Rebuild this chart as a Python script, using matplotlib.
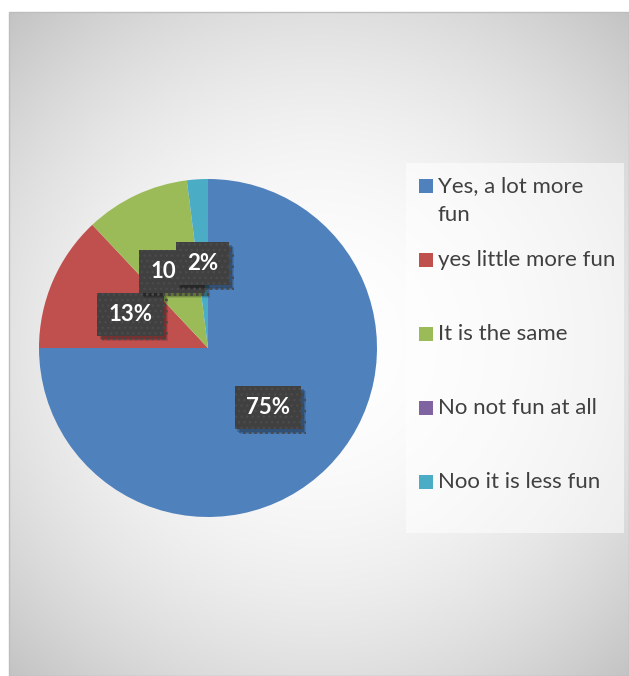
import numpy as np
import matplotlib.pyplot as plt
import matplotlib.patheffects as pe
from matplotlib.patches import Rectangle

# survey answers and their shares in percent
categories = ["Yes, a lot more fun", "yes little more fun", "It is the same",
              "No not fun at all", "Noo it is less fun"]
legend_labels = ["Yes, a lot more\nfun", "yes little more fun", "It is the same",
                 "No not fun at all", "Noo it is less fun"]
shares = [75, 13, 10, 0, 2]
colors = ["#4F81BD", "#C0504D", "#9BBB59", "#8064A2", "#4BACC6"]

W, H = 629, 676
plt.rcParams['font.family'] = ['Lato', 'DejaVu Sans']

fig = plt.figure(figsize=(W / 100, H / 100), dpi=100)
fig.patch.set_facecolor("white")

# chart area with a radial grey gradient
x0, y0 = 9, 12
cw, ch = W - x0, H - y0
bg = fig.add_axes([x0 / W, 0, cw / W, ch / H])
yy, xx = np.mgrid[0:ch, 0:cw]
cx, cy = cw / 2, 332
d = np.hypot(xx - cx, yy - cy) / np.hypot(cx, cy)
v = np.clip(255 - 60 * d ** 2, 0, 255) / 255
bg.imshow(np.dstack([v, v, v]), extent=[0, cw, ch, 0], aspect='auto')
bg.set_xlim(0, cw)
bg.set_ylim(ch, 0)
bg.axis('off')
fig.patches.append(Rectangle((x0 / W, 0), cw / W, ch / H, transform=fig.transFigure,
                             facecolor='none', edgecolor='#bdbdbd', linewidth=1))

# pie
pcx, pcy, r = 208, 348, 169
ax = fig.add_axes([(pcx - r) / W, (H - pcy - r) / H, 2 * r / W, 2 * r / H])
wedges, _ = ax.pie(shares, colors=colors, startangle=90, counterclock=False,
                   wedgeprops=dict(linewidth=0))
ax.set_xlim(-1, 1)
ax.set_ylim(-1, 1)
ax.axis('off')

# soft drop shadow built from a few stacked offsets
shadow = [pe.SimplePatchShadow(offset=(o, -o), shadow_rgbFace='black', alpha=a)
          for o, a in [(3.5, 0.10), (2.8, 0.14), (2.0, 0.18)]] + [pe.Normal()]

# data labels: dark dotted boxes
for w, s in zip(wedges, shares):
    if s == 0:
        continue
    mid = np.deg2rad((w.theta1 + w.theta2) / 2)
    lx, ly = 0.5 * np.cos(mid), 0.5 * np.sin(mid)
    t = ax.text(lx, ly, f"{s}%", ha='center', va='center', fontsize=16,
                fontweight='bold', color='white',
                bbox=dict(boxstyle='square,pad=0.5', facecolor='#404040',
                          edgecolor='#4b4b4b', linewidth=0, hatch='...'))
    t.get_bbox_patch().set_path_effects(shadow)

# legend panel
lx0, ly0, lx1, ly1 = 406, 163, 624, 533
fig.patches.append(Rectangle((lx0 / W, 1 - ly1 / H), (lx1 - lx0) / W, (ly1 - ly0) / H,
                             transform=fig.transFigure, facecolor='white', alpha=0.55,
                             edgecolor='none'))
for i, (lab, c) in enumerate(zip(legend_labels, colors)):
    yc = 186 + 74 * i
    fig.patches.append(Rectangle((419 / W, 1 - (yc + 7) / H), 14 / W, 14 / H,
                                 transform=fig.transFigure, facecolor=c,
                                 edgecolor='none'))
    fig.text(438 / W, 1 - (yc - 10) / H, lab, ha='left', va='top', fontsize=16,
             color='#404040', linespacing=1.55)

fig.savefig("out.png", dpi=100)
